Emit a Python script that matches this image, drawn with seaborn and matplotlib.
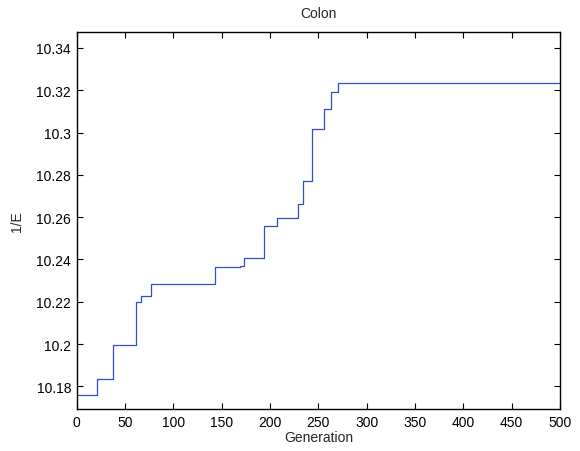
import matplotlib
matplotlib.use("Agg")
import matplotlib.pyplot as plt
import seaborn as sns
import pandas as pd

# Step change points (generation) and 1/E values
generation = [0, 21, 38, 61, 67, 77, 143, 169, 173, 194, 207, 229, 234, 243, 256, 263, 270, 500]
inv_e = [10.1759, 10.1833, 10.1997, 10.2197, 10.2228, 10.2285, 10.2365, 10.2368, 10.2406,
         10.2557, 10.2595, 10.2663, 10.2772, 10.3018, 10.3113, 10.3192, 10.3232, 10.3232]

xticks = [0, 50, 100, 150, 200, 250, 300, 350, 400, 450, 500]
yticks = [10.18, 10.20, 10.22, 10.24, 10.26, 10.28, 10.30, 10.32, 10.34]
ytick_labels = ["10.18", "10.2", "10.22", "10.24", "10.26", "10.28", "10.3", "10.32", "10.34"]

sns.set_style("ticks")
plt.rcParams['font.family'] = ['Liberation Sans', 'DejaVu Sans']

df = pd.DataFrame({"Generation": generation, "1/E": inv_e})

fig = plt.figure(figsize=(5.8, 4.52), dpi=100)
ax = fig.add_axes([0.1322, 0.0929, 0.8333, 0.8334])

sns.lineplot(data=df, x="Generation", y="1/E", ax=ax, estimator=None,
             drawstyle="steps-post", color="#2f4fc4", linewidth=0.9)

ax.set_xlim(0, 500)
ax.set_ylim(10.1693, 10.3474)
ax.set_xticks(xticks)
ax.set_xticklabels([str(t) for t in xticks])
ax.set_yticks(yticks)
ax.set_yticklabels(ytick_labels)

ax.tick_params(direction="in", length=4.5, width=0.8, labelsize=10, colors="black",
               top=True, right=True, pad=4)
for s in ax.spines.values():
    s.set_visible(True)
    s.set_linewidth(1.0)
    s.set_color("black")

ax.set_xlabel("Generation", fontsize=10, labelpad=1)
ax.set_ylabel("1/E", fontsize=10, labelpad=9)
ax.set_title("Colon", fontsize=10, pad=11)

fig.savefig("out.png", dpi=100)
